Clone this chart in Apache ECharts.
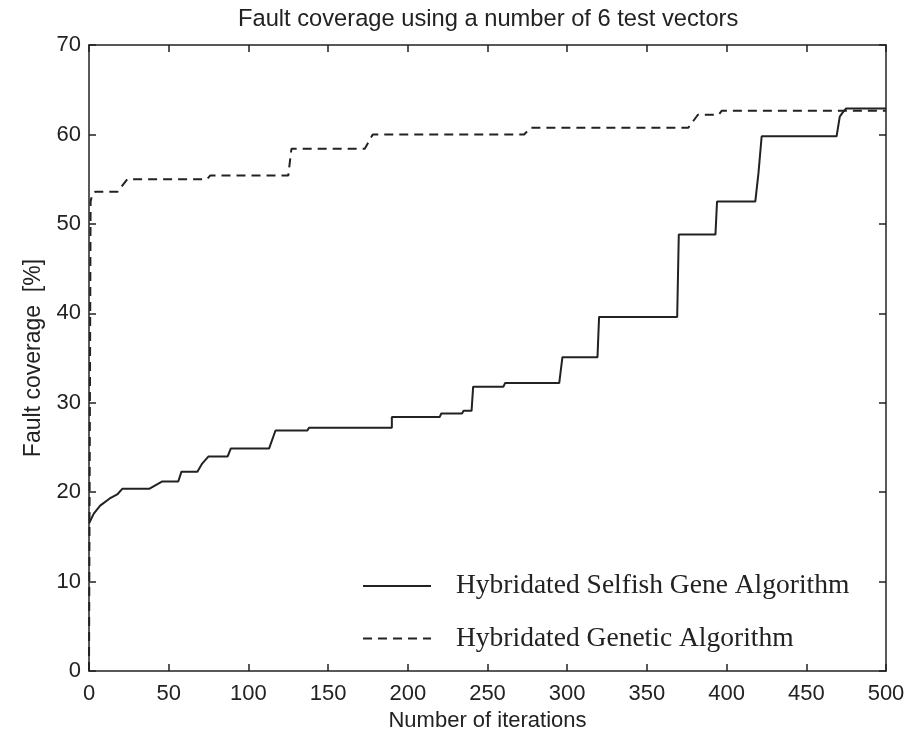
<!DOCTYPE html>
<html>
<head>
<meta charset="utf-8">
<script src="https://cdn.jsdelivr.net/npm/echarts@6/dist/echarts.min.js"></script>
<style>
html,body{margin:0;padding:0;background:#fff;}
#fault{width:913px;height:737px;}
</style>
</head>
<body>
<div id="fault"></div>
<script>
// iterations / fault coverage (%)
var selfishIter = [0, 3, 7, 13, 18, 21, 38, 46, 56, 58, 68, 71, 75, 87, 89, 113, 117, 137, 138, 190, 190, 220, 221, 234, 235, 240, 241, 260, 261, 295, 297, 319, 320, 369, 370, 393, 394, 418, 420, 422, 469, 471, 473, 475, 500];
var selfishCov  = [16.5, 17.6, 18.5, 19.3, 19.8, 20.4, 20.4, 21.2, 21.2, 22.3, 22.3, 23.2, 24.0, 24.0, 24.9, 24.9, 26.9, 26.9, 27.2, 27.2, 28.4, 28.4, 28.8, 28.8, 29.1, 29.1, 31.8, 31.8, 32.2, 32.2, 35.1, 35.1, 39.6, 39.6, 48.8, 48.8, 52.5, 52.5, 55.7, 59.8, 59.8, 62.0, 62.5, 62.9, 62.9];

var geneticIter = [0, 1, 2, 4, 18, 24, 74, 76, 125, 127, 173, 178, 273, 277, 376, 382, 395, 397, 500];
var geneticCov  = [0, 52.5, 53.3, 53.6, 53.6, 55.0, 55.0, 55.4, 55.4, 58.4, 58.4, 60.0, 60.0, 60.75, 60.75, 62.2, 62.2, 62.65, 62.65];

var xTicks = {min: 0, max: 500, step: 50};
var yTicks = {min: 0, max: 70, step: 10};

function pairs(xs, ys){
    var out = [];
    for (var i = 0; i < xs.length; i++) out.push([xs[i], ys[i]]);
    return out;
}

var ink = '#222';
var sans = 'Liberation Sans, Arial, sans-serif';

var chart = echarts.init(document.getElementById('fault'));

function boxAxis(pos, t, main){
    return {
        type: 'value',
        position: pos,
        min: t.min, max: t.max, interval: t.step,
        axisLine: {show: true, onZero: false, lineStyle: {color: ink, width: 1.5}},
        axisTick: {show: true, inside: true, length: 7, lineStyle: {color: ink, width: 1.5}},
        axisLabel: {show: main, color: ink, fontFamily: sans, fontSize: 22, margin: main ? (pos == 'bottom' ? 12 : 8) : 0},
        splitLine: {show: false}
    };
}

var xMain = boxAxis('bottom', xTicks, true);
xMain.name = 'Number of iterations';
xMain.nameLocation = 'middle';
xMain.nameGap = 31;
xMain.nameTextStyle = {color: ink, fontFamily: sans, fontSize: 22};

var yMain = boxAxis('left', yTicks, true);
yMain.name = 'Fault coverage  [%]';
yMain.nameLocation = 'middle';
yMain.nameGap = 43;
yMain.nameTextStyle = {color: ink, fontFamily: sans, fontSize: 23};

var option = {
    animation: false,
    backgroundColor: '#fff',
    title: {
        text: 'Fault coverage using a number of 6 test vectors',
        left: 233,
        top: 2,
        textStyle: {color: ink, fontFamily: sans, fontSize: 23.7, fontWeight: 'normal'}
    },
    grid: {left: 89, right: 27, top: 45, bottom: 64},
    legend: {
        orient: 'vertical',
        left: 357,
        top: 567,
        itemWidth: 68,
        itemHeight: 14,
        itemGap: 24.5,
        textStyle: {color: ink, fontFamily: 'Liberation Serif, Times New Roman, serif', fontSize: 27.5, padding: [0, 0, 0, 20]},
        data: ['Hybridated Selfish Gene Algorithm', 'Hybridated Genetic Algorithm']
    },
    xAxis: [xMain, boxAxis('top', xTicks, false)],
    yAxis: [yMain, boxAxis('right', yTicks, false)],
    series: [
        {
            name: 'Hybridated Selfish Gene Algorithm',
            type: 'line',
            symbol: 'none',
            itemStyle: {color: ink, opacity: 0},
            lineStyle: {color: ink, width: 2, type: 'solid'},
            data: pairs(selfishIter, selfishCov)
        },
        {
            name: 'Hybridated Genetic Algorithm',
            type: 'line',
            symbol: 'none',
            itemStyle: {color: ink, opacity: 0},
            lineStyle: {color: ink, width: 2, type: [9, 6]},
            data: pairs(geneticIter, geneticCov)
        }
    ]
};
chart.setOption(option);
</script>
</body>
</html>
